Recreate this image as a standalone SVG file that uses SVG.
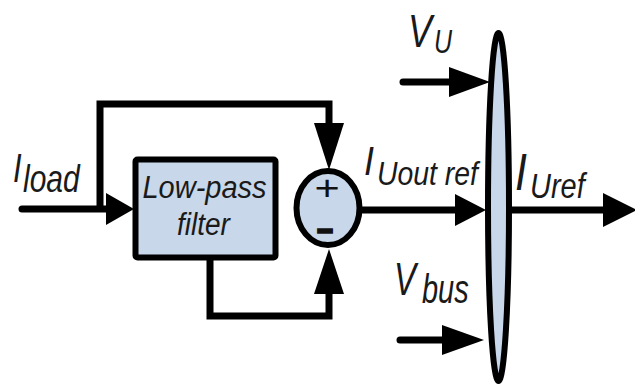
<svg xmlns="http://www.w3.org/2000/svg" width="635" height="385" viewBox="0 0 635 385">
<style>
.blk{fill:#c8d7e9;stroke:#000;stroke-width:6}
.ln{fill:none;stroke:#000;stroke-width:7;stroke-linejoin:miter}
.rc{stroke-linecap:round}
.ah{fill:#000;stroke:none}
.lbl{font-family:"Liberation Sans",Arial,sans-serif;font-style:italic;fill:#1a1a1a}
.sgn{font-family:"Liberation Sans",Arial,sans-serif;fill:#111;text-anchor:middle}
</style>
<g id="connectors">
  <path class="ln rc" d="M22,209 H109"/>
  <polygon class="ah" points="106,193 134,209 106,225"/>
  <path class="ln" d="M100,209 V104 H329 V126"/>
  <polygon class="ah" points="314,123 344,123 329,170"/>
  <path class="ln" d="M210,258 V316 H329 V292"/>
  <polygon class="ah" points="314,294 344,294 329,249"/>
  <path class="ln" d="M360,210 H458"/>
  <polygon class="ah" points="455,194 486,210 455,226"/>
  <path class="ln" d="M511,210 H606"/>
  <polygon class="ah" points="603,193 637,210 603,227"/>
  <path class="ln rc" d="M403,82 H452"/>
  <polygon class="ah" points="449,67 490,82 449,97"/>
  <path class="ln rc" d="M400,340 H444"/>
  <polygon class="ah" points="442,325 484,340 442,355"/>
</g>
<g id="lpf">
  <rect class="blk" x="135.5" y="159.5" width="140" height="98" rx="2"/>
  <text class="lbl" transform="translate(204.5,198) scale(1,1.05)" font-size="29" text-anchor="middle">Low-pass</text>
  <text class="lbl" transform="translate(203.5,235) scale(1,1.1)" font-size="28" text-anchor="middle">filter</text>
</g>
<g id="sum">
  <ellipse class="blk" cx="328" cy="208" rx="31.5" ry="37"/>
  <text class="sgn" transform="translate(327,199.5) scale(1.2,1)" font-size="36">+</text>
  <text class="sgn" transform="translate(325,239.5) scale(1.6,1)" font-size="33" font-weight="bold" stroke="#111" stroke-width="1.6">-</text>
</g>
<g id="combiner">
  <ellipse class="blk" cx="498.5" cy="207" rx="10.5" ry="174" stroke-width="7"/>
</g>
<g id="labels">
  <text class="lbl" transform="translate(13,182) scale(1,1.3)" font-size="31">I<tspan x="10" y="7.7" font-size="30">load</tspan></text>
  <text class="lbl" transform="translate(408,47) scale(1,1.3)" font-size="36">V<tspan x="26" y="4.6" font-size="25">U</tspan></text>
  <text class="lbl" transform="translate(364,175) scale(1,1.15)" font-size="36">I<tspan x="13" y="8.7" font-size="28.4">Uout ref</tspan></text>
  <text class="lbl" transform="translate(515,190) scale(1,1.2)" font-size="43">I<tspan x="15" y="6.7" font-size="29">Uref</tspan></text>
  <text class="lbl" transform="translate(394,295) scale(1,1.4)" font-size="33">V<tspan x="28" y="5.7" font-size="29">bus</tspan></text>
</g>
</svg>
